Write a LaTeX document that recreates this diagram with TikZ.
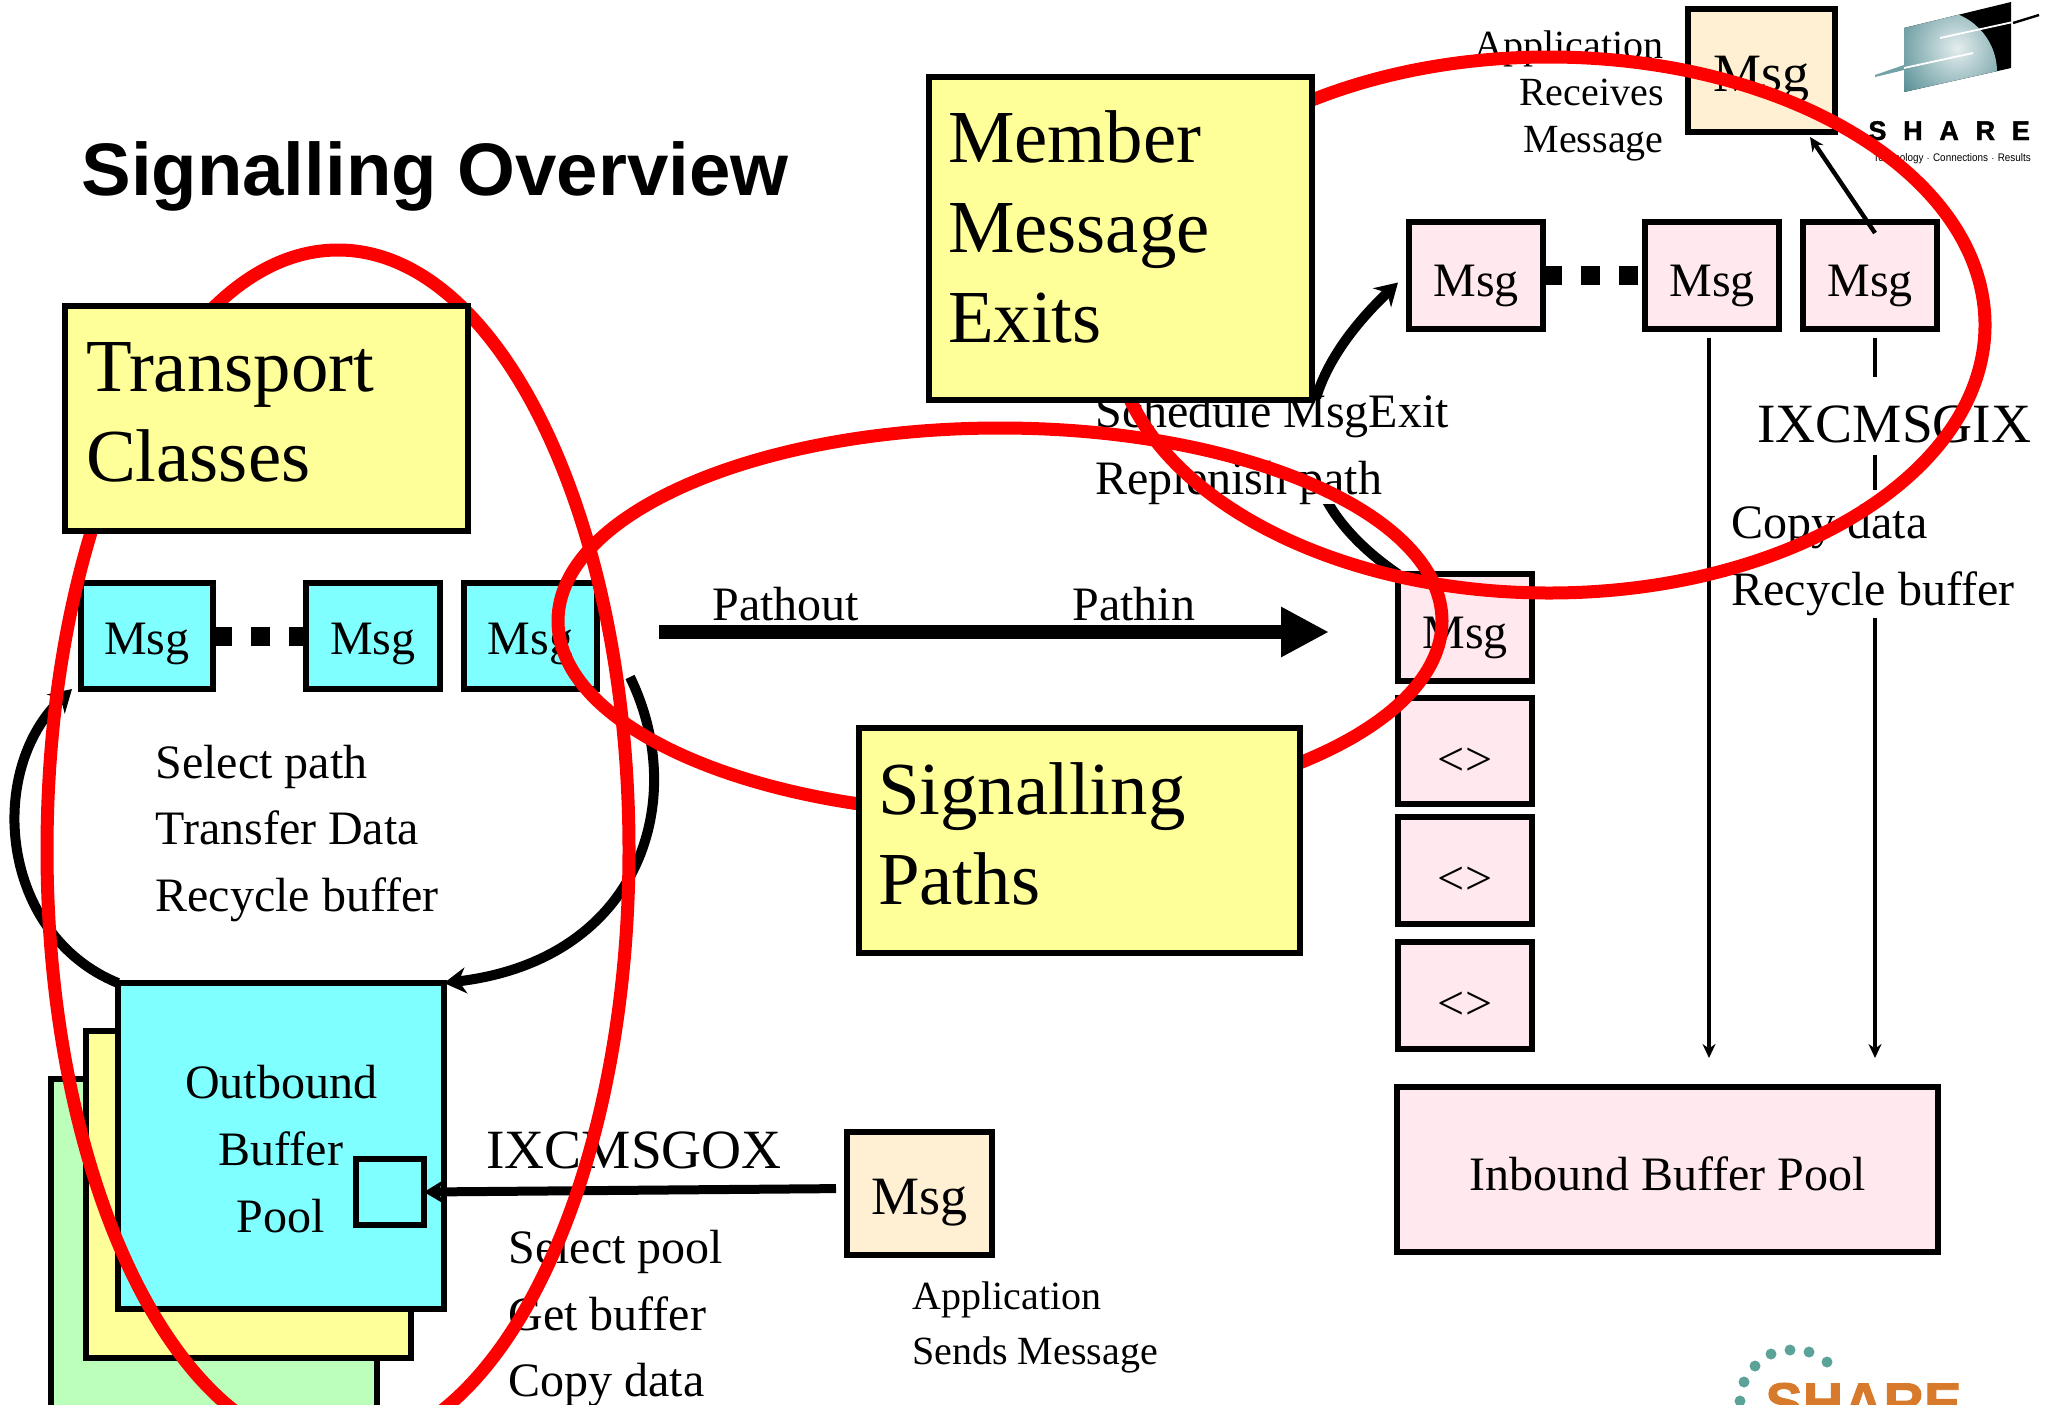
\documentclass[tikz,border=0pt]{standalone}
\usepackage{fontspec}
\setmainfont{Liberation Serif}
\newfontfamily\arialf{Liberation Sans}
\newfontfamily\sharef[LetterSpace=62,FakeBold=1.5]{Liberation Sans Bold}
\newfontfamily\heavyf[FakeBold=1.5]{Liberation Sans Bold}
\usetikzlibrary{arrows.meta,calc}
\definecolor{cyanbox}{HTML}{7FFFFF}
\definecolor{yellowbox}{HTML}{FFFF99}
\definecolor{greenbox}{HTML}{BBFFBB}
\definecolor{pinkbox}{HTML}{FFE8EE}
\definecolor{creambox}{HTML}{FFF0D4}
\definecolor{logoteal}{HTML}{5BA398}
\definecolor{logoorange}{HTML}{D87A2B}
\definecolor{sphere}{HTML}{4F8A90}
\newcommand{\bx}[7]{%
  \pgfmathsetmacro{\bw}{(#4-#2)*0.5}%
  \pgfmathsetmacro{\bh}{(#5-#3)*0.5}%
  \node[#6,minimum width=\bw pt,minimum height=\bh pt] (#1) at ({(#2+#4)/2},{(#3+#5)/2}) {#7};}
\newcommand{\ystrut}[2]{\rule[-#2]{0pt}{\dimexpr#1+#2\relax}}
\tikzset{
  x=0.5pt,y=-0.5pt,
  boxed/.style={draw=black,line width=2.75pt,inner sep=0pt,outer sep=0pt,
    font=\fontsize{24}{33.5}\selectfont,text height=25pt,text depth=4pt},
  boxedleft/.style={boxed,text height=22pt,text depth=4pt},
  boxedangle/.style={boxed,text height=28pt,text depth=4pt},
  boxedapp/.style={boxed,font=\fontsize{27}{33.5}\selectfont,text height=25pt,text depth=4pt},
  plainbox/.style={draw=black,line width=2.75pt,inner sep=0pt,outer sep=0pt,
    font=\fontsize{24}{33.5}\selectfont},
  bigbox/.style={draw=black,line width=2.75pt,inner sep=0pt,outer sep=0pt,fill=yellowbox,
    font=\fontsize{37.4}{45}\selectfont,align=left},
  txt/.style={anchor=base west,inner sep=0pt,font=\fontsize{24}{29}\selectfont},
  smalltxt/.style={anchor=base west,inner sep=0pt,font=\fontsize{20}{24}\selectfont},
  righttxt/.style={anchor=base east,inner sep=0pt,font=\fontsize{20}{24}\selectfont},
  cmdtxt/.style={anchor=base west,inner sep=0pt,font=\fontsize{27.7}{33}\selectfont},
  redring/.style={draw=red,line width=6.5pt},
  thickarc/.style={draw=black,line width=5pt,-{Stealth[length=11pt,width=13pt]}},
  thinarrow/.style={draw=black,line width=2.2pt,-{Stealth[length=7pt,width=6.5pt]}},
  dots/.style={draw=black,line width=9.5pt,dash pattern=on 9.5pt off 9.5pt},
  blank/.style={fill=white},
}
\begin{document}
\begin{tikzpicture}
\useasboundingbox (0,0) rectangle (2049,1404);
\clip (0,0) rectangle (2049,1404);
\fill[white] (0,0) rectangle (2049,1404);

% free ends
\coordinate (pstart) at (659,632);
\coordinate (pend) at (1329,632);
\coordinate (rstart) at (630,677);

% outbound messages
\bx{m1}{81}{583}{213}{689}{boxedleft,fill=cyanbox}{Msg}
\bx{m2}{306}{583}{440}{689}{boxedleft,fill=cyanbox}{Msg}
\bx{m3}{464}{583}{597}{689}{boxedleft,fill=cyanbox}{Msg}
\draw[dots] (m1.east) -- (m2.west);

% outbound buffer stack
\bx{pg}{51}{1079}{377}{1420}{plainbox,fill=greenbox}{}
\bx{py}{86}{1031}{411}{1358}{plainbox,fill=yellowbox}{}
\draw[thickarc] (118,983) .. controls (0,935) and (-15,770) .. ($(m1.south west)+(-9,0)$);
\bx{obuf}{118}{983}{444}{1309}{plainbox,fill=cyanbox,align=center}{\ystrut{24pt}{0pt}Outbound\\Buffer\\Pool\ystrut{0pt}{5pt}}
\bx{slot}{356}{1159}{424}{1225}{plainbox,fill=cyanbox}{}
\draw[thickarc] (rstart) .. controls (690,800) and (640,960) .. (obuf.north east);

% inbound side
\bx{t1}{1409}{222}{1543}{329}{boxed,fill=pinkbox}{Msg}
\bx{t2}{1645}{222}{1779}{329}{boxed,fill=pinkbox}{Msg}
\bx{t3}{1803}{222}{1937}{329}{boxed,fill=pinkbox}{Msg}
\draw[dots] (t1.east) -- (t2.west);
\bx{recv}{1688}{9}{1835}{132}{boxedapp,fill=creambox}{Msg}
\bx{min}{1398}{574}{1532}{681}{boxed,fill=pinkbox}{Msg}
\bx{e1}{1398}{698}{1532}{804}{boxedangle,fill=pinkbox}{<>}
\bx{e2}{1398}{817}{1532}{924}{boxedangle,fill=pinkbox}{<>}
\bx{e3}{1398}{942}{1532}{1049}{boxedangle,fill=pinkbox}{<>}
\bx{inb}{1397}{1087}{1938}{1252}{boxed,fill=pinkbox}{Inbound Buffer Pool}
\bx{send}{847}{1132}{992}{1255}{boxedapp,fill=creambox}{Msg}

% connectors
\draw[thinarrow,shorten <=4.5pt,shorten >=14.5pt] (t2.south -| 1709,0) -- (inb.north -| 1709,0);
\draw[thinarrow,shorten <=4.5pt,shorten >=14.5pt] (t3.south -| 1875,0) -- (inb.north -| 1875,0);
\draw[thinarrow] ($(t3.north)+(5,11)$) -- ($(recv.south east)+(-25,5)$);
\draw[thickarc] (min.north west) .. controls (1290,500) and (1275,400) .. ($(t1.west)+(-11,7)$);
\draw[draw=black,line width=7pt,-{Triangle[length=24pt,width=23.5pt]}] (pstart) -- (pend);
\draw[draw=black,line width=4.5pt,-{Stealth[length=10pt,width=12pt]},shorten <=5.5pt] ($(send.west)+(0,-5)$) -- (slot.east);

% texts
\node[anchor=base west,inner sep=0pt,font=\arialf\bfseries\fontsize{37.2}{44}\selectfont] (title) at (81,195) {Signalling Overview};
\node[txt] (sp1) at (155,778) {Select path};
\node[txt] (sp2) at (155,844) {Transfer Data};
\node[txt] (sp3) at (155,911) {Recycle buffer};
\node[txt] (pout) at (712,620) {Pathout};
\node[txt] (pin) at (1072,620) {Pathin};
\node[cmdtxt] (gox) at (486,1168) {IXCMSGOX};
\node[txt] (ob1) at (508,1263) {Select pool};
\node[txt] (ob2) at (508,1330) {Get buffer};
\node[txt] (ob3) at (508,1396) {Copy data};
\node[smalltxt] (ap1) at (912,1309) {Application};
\node[smalltxt] (ap2) at (912,1364) {Sends Message};
\node[righttxt] (rc1) at (1664,58) {Application};
\node[righttxt] (rc2) at (1664,105) {Receives};
\node[righttxt] (rc3) at (1664,152) {Message};
\node[txt,blank,text height=14pt,text depth=16.5pt] (sx1) at (1095,427) {Schedule MsgExit};
\node[txt,blank,text height=17pt,text depth=5pt] (sx2) at (1095,494) {Replenish path};
\node[cmdtxt,blank,text height=32.5pt,text depth=6.5pt] (gix) at (1757,442) {IXCMSGIX};
\node[txt,blank,text height=24pt,text depth=33.5pt] (ib1) at (1731,538) {Copy data};
\node[txt,blank,text height=17pt,text depth=6.5pt] (ib2) at (1731,605) {Recycle buffer};

% IBM style globe logo
\begin{scope}
  \clip (1904,28) -- (2011,2) -- (2011,68) -- (1904,92) -- cycle;
  \fill[black] (1900,0) rectangle (2015,95);
  \clip (1935,72) circle (62);
  \shade[inner color=white!85!sphere,outer color=sphere] (1957,48) circle (72);
\end{scope}
\fill[sphere!80!white] (1875,75) -- (1904,65) -- (1904,70) -- (1875,77) -- cycle;
\draw[white,line width=0.9pt] (1904,68) -- (1973,53);
\draw[white,line width=0.9pt] (1940,38) -- (2013,22);
\draw[black,line width=1.2pt] (2013,23) -- (2039,15);
\node[anchor=base west,inner sep=0pt,font=\sharef\fontsize{13.5}{15}\selectfont] (shtop) at (1868,140) {SHARE};
\node[anchor=base west,inner sep=0pt,xscale=0.9,font=\arialf\fontsize{5.5}{6}\selectfont] (shtag) at (1873,161) {Technology $\cdot$ Connections $\cdot$ Results};

% SHARE logo at the bottom
\foreach \px/\py in {1827/1362,1809/1352,1790/1350,1771/1354,1755/1366,1744/1382,1740/1401}
  \fill[logoteal] (\px,\py) circle (5.5);
\node[anchor=base west,inner sep=0pt,text=logoorange,font=\heavyf\fontsize{28}{32}\selectfont] (shbot) at (1765,1422) {SHARE};

% red rings
\draw[redring] (338,850) ellipse [x radius=291,y radius=600];
\draw[redring] (1000,621) ellipse [x radius=442,y radius=193];
\draw[redring] (1549,325) ellipse [x radius=436,y radius=268];

% yellow title boxes on top
\bx{tc}{65}{306}{468}{531}{bigbox,text width=180.5pt}{\ystrut{31.5pt}{0pt}Transport\\Classes\ystrut{0pt}{13.5pt}}
\bx{mme}{929}{77}{1312}{400}{bigbox,text width=172.5pt}{\ystrut{31.5pt}{0pt}Member\\Message\\Exits\ystrut{0pt}{18pt}}
\bx{sigp}{859}{728}{1300}{953}{bigbox,text width=201.5pt}{\ystrut{31.5pt}{0pt}Signalling\\Paths\ystrut{0pt}{13pt}}
\end{tikzpicture}
\end{document}
